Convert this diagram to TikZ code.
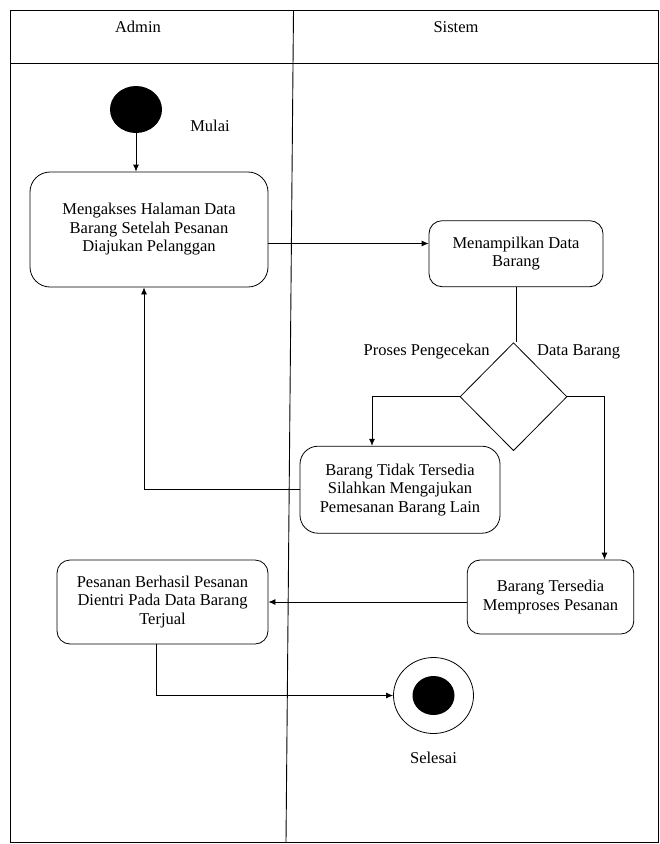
\documentclass[tikz,border=0pt]{standalone}
\usepackage{fontspec}
\setmainfont{Liberation Serif}
\usetikzlibrary{shapes.geometric,arrows.meta}

\begin{document}
\begin{tikzpicture}[x=1pt,y=-1pt,
    font=\fontsize{16.5}{18.5}\selectfont,
    act/.style={draw, rounded corners=13pt, align=center, inner sep=0pt, line width=0.8pt},
    flow/.style={-{Latex[length=7pt,width=6pt]}, line width=0.8pt},
    lbl/.style={draw=none, inner sep=0pt}]
\useasboundingbox (0,0) rectangle (660,844);

% lanes
\draw[line width=0.9pt] (10,10.5) rectangle (658.5,842);
\draw[line width=0.9pt] (10,63) -- (658.5,63);
\draw[line width=0.9pt] (293.5,10.5) -- (286,842);
\node[lbl] (admin) at (138,27) {Admin};
\node[lbl] (sistem) at (456,27) {Sistem};

% start
\node[ellipse, fill=black, minimum width=52pt, minimum height=47pt, inner sep=0pt] (start) at (136,109.5) {};
\node[lbl] (mulai) at (210,126) {Mulai};

% activities
\node[act, rounded corners=20pt, minimum width=238pt, minimum height=115pt] (box1) at (149,229.5)
    {Mengakses Halaman Data\\Barang Setelah Pesanan\\Diajukan Pelanggan};
\node[act, minimum width=174pt, minimum height=66pt] (box2) at (516,253.7)
    {Menampilkan Data\\Barang};
\node[diamond, draw, line width=0.8pt, minimum width=107pt, minimum height=108pt, inner sep=0pt] (dia) at (513.5,396.7) {};
\node[lbl] (cek) at (426.7,351.7) {Proses Pengecekan};
\node[lbl] (data) at (578.7,351.7) {Data Barang};
\node[act, rounded corners=18pt, minimum width=200pt, minimum height=87pt] (box3) at (400,489.7)
    {Barang Tidak Tersedia\\Silahkan Mengajukan\\Pemesanan Barang Lain};
\node[act, minimum width=166.6pt, minimum height=74pt] (box4) at (550.5,597)
    {Barang Tersedia\\Memproses Pesanan};
\node[act, minimum width=211pt, minimum height=84pt] (box5) at (162.5,602)
    {Pesanan Berhasil Pesanan\\Dientri Pada Data Barang\\Terjual};

% end
\node[ellipse, draw, line width=0.8pt, minimum width=80pt, minimum height=76pt] (stop) at (433.5,695.5) {};
\node[ellipse, fill=black, minimum width=42pt, minimum height=39pt, inner sep=0pt] (stopdot) at (stop.center) {};
\node[lbl] (selesai) at (433.5,758) {Selesai};

% flows
\draw[flow] (start.south) -- (start.south |- box1.north);
\draw[flow] ([yshift=-14pt]box1.east) -- ([yshift=-14pt]box1.east -| box2.west);
\draw[line width=0.8pt] (box2.south) -- (box2.south |- dia.north);
\draw[flow] (dia.west) -| ([xshift=-28pt]box3.north);
\draw[flow] (dia.east) -| ([xshift=54pt]box4.north);
\draw[flow] (box3.west) -| ([xshift=-5pt]box1.south);
\draw[flow] ([yshift=-5pt]box4.west) -- ([yshift=-5pt]box4.west -| box5.east);
\draw[flow] ([xshift=-6pt]box5.south) |- (stop.west);
\end{tikzpicture}
\end{document}
